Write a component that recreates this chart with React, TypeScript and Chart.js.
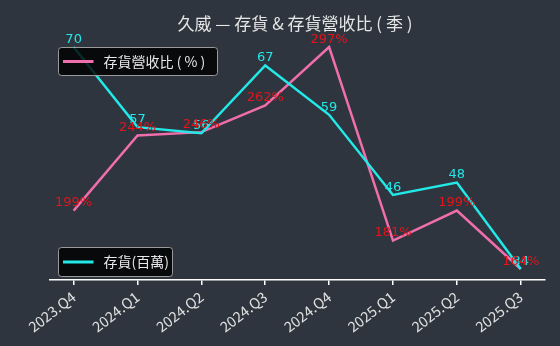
import React, { useEffect, useRef } from "react";
import { Chart, registerables } from "chart.js";

Chart.register(...registerables);

const categories = ["2023.Q4", "2024.Q1", "2024.Q2", "2024.Q3", "2024.Q4", "2025.Q1", "2025.Q2", "2025.Q3"];
const inventory = [70, 57, 56, 67, 59, 46, 48, 34];
const ratio = [199, 244, 246, 262, 297, 181, 199, 164];

const TITLE = "久威 — 存貨 & 存貨營收比 ( 季 )";
const RATIO_LABEL = "存貨營收比 ( % )";
const INV_LABEL = "存貨(百萬)";

const BG = "#2f353e";
const CYAN = "#22e8e8";
const PINK = "#ef6eac";
const RED = "#e3141c";
const FONT = "'Noto Sans CJK TC', 'Noto Sans', sans-serif";
const NUMFONT = "'DejaVu Sans', sans-serif";

const overlay = {
  id: "overlay",
  beforeDraw(chart: any) {
    const ctx = chart.ctx;
    ctx.save();
    ctx.fillStyle = BG;
    ctx.fillRect(0, 0, chart.width, chart.height);
    ctx.restore();
  },
  afterDatasetsDraw(chart: any) {
    const ctx = chart.ctx;
    ctx.save();
    ctx.textAlign = "center";
    ctx.textBaseline = "bottom";
    ctx.font = `13px ${NUMFONT}`;
    const m0 = chart.getDatasetMeta(0);
    const m1 = chart.getDatasetMeta(1);
    m0.data.forEach((p: any, i: number) => {
      ctx.fillStyle = CYAN;
      ctx.fillText(String(inventory[i]), p.x, p.y - 1);
    });
    m1.data.forEach((p: any, i: number) => {
      ctx.fillStyle = RED;
      ctx.fillText(ratio[i] + "%", p.x, p.y - 1);
    });
    ctx.font = `17px ${FONT}`;
    ctx.fillStyle = "#e6e6e6";
    ctx.textBaseline = "middle";
    ctx.fillText(TITLE, 295, 24);
    const drawLegend = (x: number, y: number, w: number, h: number, color: string, label: string) => {
      ctx.beginPath();
      const r = 3;
      ctx.moveTo(x + r, y);
      ctx.lineTo(x + w - r, y);
      ctx.quadraticCurveTo(x + w, y, x + w, y + r);
      ctx.lineTo(x + w, y + h - r);
      ctx.quadraticCurveTo(x + w, y + h, x + w - r, y + h);
      ctx.lineTo(x + r, y + h);
      ctx.quadraticCurveTo(x, y + h, x, y + h - r);
      ctx.lineTo(x, y + r);
      ctx.quadraticCurveTo(x, y, x + r, y);
      ctx.closePath();
      ctx.fillStyle = "rgba(0,0,0,0.82)";
      ctx.fill();
      ctx.strokeStyle = "#9a9a9a";
      ctx.lineWidth = 1;
      ctx.stroke();
      ctx.beginPath();
      ctx.moveTo(x + 4.5, y + h / 2);
      ctx.lineTo(x + 35, y + h / 2);
      ctx.strokeStyle = color;
      ctx.lineWidth = 3;
      ctx.stroke();
      ctx.fillStyle = "#e8e8e8";
      ctx.font = `14px ${FONT}`;
      ctx.textAlign = "left";
      ctx.textBaseline = "middle";
      ctx.fillText(label, x + 45, y + h / 2);
    };
    drawLegend(58.5, 47.5, 159, 28, PINK, RATIO_LABEL);
    drawLegend(58.5, 247.5, 114, 29, CYAN, INV_LABEL);
    ctx.restore();
  },
};

export default function App() {
  const ref = useRef<HTMLCanvasElement>(null);
  useEffect(() => {
    document.body.style.margin = "0";
    const chart = new Chart(ref.current!, {
      type: "line",
      data: {
        datasets: [
          {
            label: INV_LABEL,
            data: inventory.map((v, i) => ({ x: i, y: v })),
            borderColor: CYAN,
            borderWidth: 2.5,
            pointRadius: 0,
            tension: 0,
            yAxisID: "y",
          },
          {
            label: RATIO_LABEL,
            data: ratio.map((v, i) => ({ x: i, y: v })),
            borderColor: PINK,
            borderWidth: 2.5,
            pointRadius: 0,
            tension: 0,
            yAxisID: "y2",
          },
        ],
      },
      options: {
        animation: false,
        responsive: false,
        layout: { padding: { left: 50, right: 15, top: 35, bottom: 0 } },
        plugins: { legend: { display: false }, title: { display: false }, tooltip: { enabled: false } },
        scales: {
          x: {
            type: "linear",
            min: -0.37,
            max: 7.38,
            afterFit: (s: any) => {
              s.height = 66;
            },
            afterBuildTicks: (s: any) => {
              s.ticks = categories.map((_, i) => ({ value: i }));
            },
            ticks: {
              autoSkip: false,
              minRotation: 38,
              maxRotation: 38,
              color: "#e0e0e0",
              font: { family: FONT, size: 14.5 },
              padding: 3,
              callback: (v: any) => categories[Math.round(v)] ?? "",
            },
            grid: { display: true, drawOnChartArea: false, drawTicks: true, tickLength: 5, color: "#ffffff", lineWidth: 1.5 },
            border: { display: true, color: "#ffffff", width: 1.5 },
          },
          y: {
            display: false,
            min: 32.2,
            max: 71.95,
          },
          y2: {
            display: false,
            min: 157.4,
            max: 304.2,
          },
        },
      },
      plugins: [overlay],
    });
    return () => chart.destroy();
  }, []);
  return (
    <div style={{ width: 560, height: 346 }}>
      <canvas ref={ref} width={560} height={346} style={{ display: "block" }} />
    </div>
  );
}
